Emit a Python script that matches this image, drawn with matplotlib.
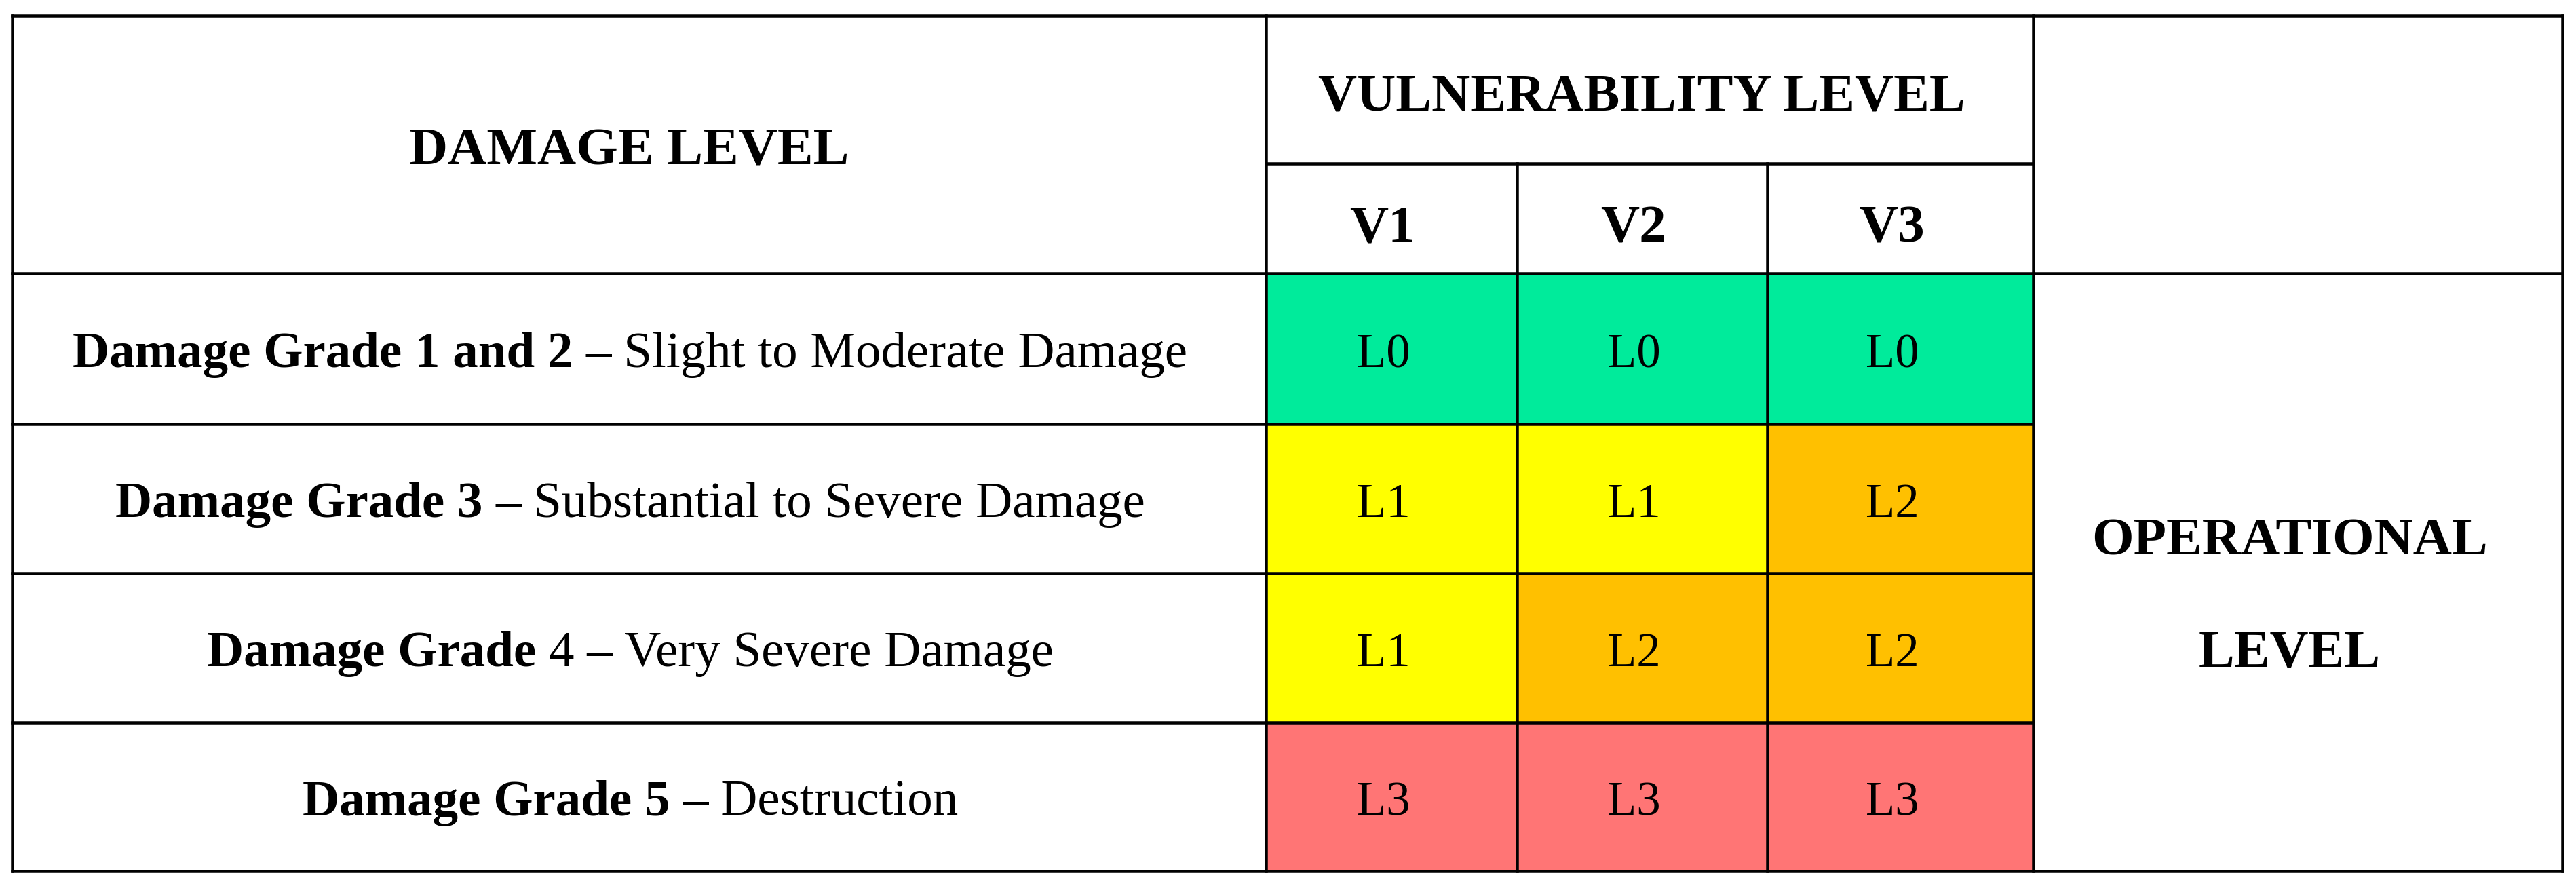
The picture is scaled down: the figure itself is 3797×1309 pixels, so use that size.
import matplotlib
matplotlib.use("Agg")
import matplotlib.pyplot as plt
from matplotlib.patches import Rectangle

# ---------------- data ----------------
header_damage = "DAMAGE LEVEL"
header_vuln = "VULNERABILITY LEVEL"
header_oper = ["OPERATIONAL", "LEVEL"]
vuln_levels = ["V1", "V2", "V3"]
row_bold = ["Damage Grade 1 and 2", "Damage Grade 3", "Damage Grade", "Damage Grade 5"]
row_regular = ["– Slight to Moderate Damage", "– Substantial to Severe Damage",
               "4 – Very Severe Damage", "– Destruction"]
op_levels = [["L0", "L0", "L0"],
             ["L1", "L1", "L2"],
             ["L1", "L2", "L2"],
             ["L3", "L3", "L3"]]
level_colors = {"L0": "#00EB9B", "L1": "#FFFF00", "L2": "#FFC000", "L3": "#FF7575"}

# ---------------- layout (pixels) ----------------
W, H = 3797, 1309
DPI = 100
xs = [18, 1866, 2236, 2605, 2997, 3777]       # column edges
ys = [23, 241, 403, 625, 845, 1065, 1284]     # row edges
LW = 4.5 * 72 / DPI
FONT = "Liberation Serif"
FS_HEAD = 57
FS_BODY = 54
FS_CELL = 51

fig = plt.figure(figsize=(W / DPI, H / DPI), dpi=DPI)
ax = fig.add_axes([0, 0, 1, 1])
ax.set_xlim(0, W)
ax.set_ylim(H, 0)
ax.axis("off")

# coloured cells
for r, row in enumerate(op_levels):
    for c, lvl in enumerate(row):
        x0, x1 = xs[1 + c], xs[2 + c]
        y0, y1 = ys[2 + r], ys[3 + r]
        ax.add_patch(Rectangle((x0, y0), x1 - x0, y1 - y0,
                               facecolor=level_colors[lvl], edgecolor="none", zorder=1))
        yc = (y0 + y1) / 2
        ax.text((x0 + x1) / 2 - 12, yc + 27, lvl, ha="center", va="baseline",
                fontsize=FS_CELL, family=FONT, zorder=3)

# grid lines
def hline(y, xa, xb):
    ax.plot([xa, xb], [y, y], color="black", lw=LW, solid_capstyle="projecting", zorder=4)

def vline(x, ya, yb):
    ax.plot([x, x], [ya, yb], color="black", lw=LW, solid_capstyle="projecting", zorder=4)

hline(ys[0], xs[0], xs[5])
hline(ys[1], xs[1], xs[4])
hline(ys[2], xs[0], xs[5])
for y in ys[3:6]:
    hline(y, xs[0], xs[4])
hline(ys[6], xs[0], xs[5])
vline(xs[0], ys[0], ys[6])
vline(xs[1], ys[0], ys[6])
vline(xs[2], ys[1], ys[6])
vline(xs[3], ys[1], ys[6])
vline(xs[4], ys[0], ys[6])
vline(xs[5], ys[0], ys[6])

# headers
ax.text(927, 242, header_damage, ha="center", va="baseline",
        fontsize=FS_HEAD, fontweight="bold", family=FONT)
ax.text((xs[1] + xs[4]) / 2 - 12, 162, header_vuln, ha="center", va="baseline",
        fontsize=FS_HEAD, fontweight="bold", family=FONT)
for c, v in enumerate(vuln_levels):
    ax.text((xs[1 + c] + xs[2 + c]) / 2 - 13, 356, v, ha="center", va="baseline",
            fontsize=FS_HEAD, fontweight="bold", family=FONT)
ax.text(3375, 817, header_oper[0], ha="center", va="baseline",
        fontsize=FS_HEAD, fontweight="bold", family=FONT)
ax.text(3375, 982, header_oper[1], ha="center", va="baseline",
        fontsize=FS_HEAD, fontweight="bold", family=FONT)

# row labels (mixed bold / regular)
renderer = fig.canvas.get_renderer()
sp = ax.text(0, 0, "a a", fontsize=FS_BODY, family=FONT)
sp2 = ax.text(0, 0, "aa", fontsize=FS_BODY, family=FONT)
space_w = sp.get_window_extent(renderer).width - sp2.get_window_extent(renderer).width
sp.remove(); sp2.remove()

for r in range(len(row_bold)):
    yb = (ys[2 + r] + ys[3 + r]) / 2 + 27
    tb = ax.text(0, yb, row_bold[r], ha="left", va="baseline",
                 fontsize=FS_BODY, fontweight="bold", family=FONT)
    tr = ax.text(0, yb, row_regular[r], ha="left", va="baseline",
                 fontsize=FS_BODY, family=FONT)
    wb = tb.get_window_extent(renderer).width
    wr = tr.get_window_extent(renderer).width
    total = wb + space_w + wr
    x0 = 929 - total / 2
    tb.set_x(x0)
    tr.set_x(x0 + wb + space_w)

fig.savefig("out.png", dpi=DPI, facecolor="white")
